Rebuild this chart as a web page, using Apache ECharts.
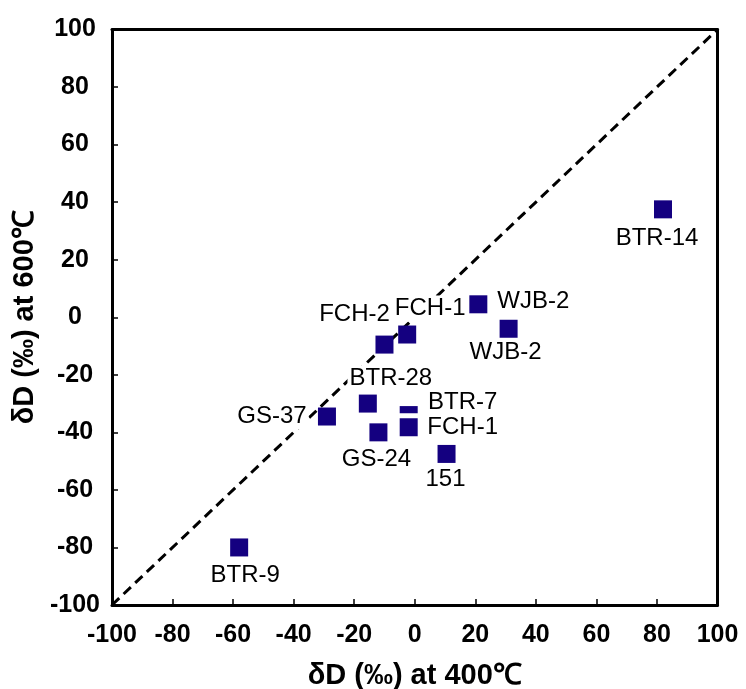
<!DOCTYPE html>
<html>
<head>
<meta charset="utf-8">
<script src="https://cdn.jsdelivr.net/npm/echarts@6/dist/echarts.min.js"></script>
<style>
  html, body { margin: 0; padding: 0; background: #fff; }
  #chart { width: 746px; height: 689px; }
</style>
</head>
<body>
<div id="chart"></div>
<script>
// Sample names and their δD values (‰) measured at the two temperatures
const sampleNames = ['BTR-14', 'BTR-9', 'WJB-2', 'WJB-2', 'FCH-1', 'FCH-2', 'BTR-28', 'GS-37', 'BTR-7', 'FCH-1', 'GS-24', '151'];
const dD400 = [82, -58, 21, 31, -2.5, -10, -15.5, -29, -2, -2, -12, 10.5];
const dD600 = [37.5, -80, 4.5, -4, -6, -9.5, -30, -34.5, -34, -38.2, -40, -47.5];

// 1:1 reference line end values
const oneToOne = [-100, 100];

// Axis range and tick step
const axisMin = -100;
const axisMax = 100;
const axisStep = 20;

// Where each label sits relative to its marker, in pixels [dx, dy]
const labelPlacement = [
  [-6, 29], [6, 28], [55, -3], [-3, 24], [23, -26], [-30, -30],
  [23, -25], [-55, 0], [54, -13], [54, 0], [-2, 27], [-1, 25]
];
// Marker drawn with a white halo where two squares overlap
const haloIndex = 9;

const markerColor = '#140080';
const tickFont = { fontFamily: 'Liberation Sans', fontWeight: 'bold', fontSize: 25, color: '#000' };
const titleFont = { fontFamily: 'Liberation Sans', fontWeight: 'bold', fontSize: 29, color: '#000' };

const frameLine = { onZero: false, lineStyle: { color: '#000', width: 3 } };

const points = sampleNames.map((name, i) => {
  const item = { name: name, value: [dD400[i], dD600[i]] };
  if (i === haloIndex) {
    item.symbolSize = 23;
    item.itemStyle = { color: markerColor, borderColor: '#fff', borderWidth: 5 };
  }
  return item;
});

const chart = echarts.init(document.getElementById('chart'));
chart.setOption({
  animation: false,
  backgroundColor: '#fff',
  grid: {
    left: 112, right: 28.5, top: 29.5, bottom: 84,
    containLabel: false,
    outerBoundsMode: 'none'
  },
  xAxis: [
    {
      type: 'value', min: axisMin, max: axisMax, interval: axisStep, position: 'bottom',
      axisLine: frameLine,
      axisTick: { inside: true, length: 6, lineStyle: { color: '#000', width: 1.5 } },
      axisLabel: Object.assign({ margin: 18 }, tickFont),
      splitLine: { show: false },
      name: 'δD (‰) at 400℃', nameLocation: 'middle', nameGap: 56,
      nameTextStyle: titleFont
    },
    {
      type: 'value', min: axisMin, max: axisMax, interval: axisStep, position: 'top',
      axisLine: frameLine, axisTick: { show: false }, axisLabel: { show: false },
      splitLine: { show: false }
    }
  ],
  yAxis: [
    {
      type: 'value', min: axisMin, max: axisMax, interval: axisStep, position: 'left',
      axisLine: frameLine,
      axisTick: { inside: true, length: 6, lineStyle: { color: '#000', width: 1.5 } },
      axisLabel: Object.assign({ margin: 37, align: 'center' }, tickFont),
      splitLine: { show: false },
      name: 'δD (‰) at 600℃', nameLocation: 'middle', nameGap: 68, nameRotate: 90,
      nameTextStyle: titleFont
    },
    {
      type: 'value', min: axisMin, max: axisMax, interval: axisStep, position: 'right',
      axisLine: frameLine, axisTick: { show: false }, axisLabel: { show: false },
      splitLine: { show: false }
    }
  ],
  series: [
    {
      type: 'line',
      z: 1,
      xAxisIndex: 0, yAxisIndex: 0,
      data: [[oneToOne[0], oneToOne[0]], [oneToOne[1], oneToOne[1]]],
      symbol: 'none',
      lineStyle: { color: '#000', width: 3, type: [10, 6] },
      silent: true
    },
    {
      type: 'scatter',
      z: 3,
      xAxisIndex: 0, yAxisIndex: 0,
      symbol: 'rect',
      symbolSize: 18,
      itemStyle: { color: markerColor, opacity: 1 },
      data: points,
      label: {
        show: true,
        position: 'inside',
        formatter: p => p.name,
        fontFamily: 'Liberation Sans',
        fontSize: 24,
        color: '#000',
        backgroundColor: '#fff',
        padding: [1, 2]
      },
      labelLayout: p => ({
        dx: labelPlacement[p.dataIndex][0],
        dy: labelPlacement[p.dataIndex][1],
        hideOverlap: false
      })
    }
  ]
});
</script>
</body>
</html>
